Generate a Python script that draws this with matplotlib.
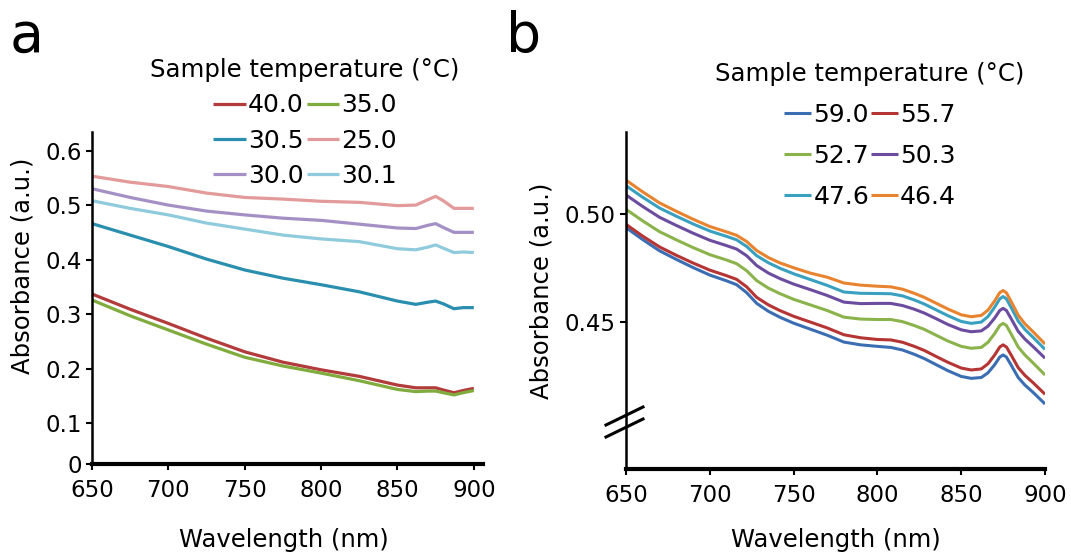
import matplotlib
matplotlib.use("Agg")
import matplotlib.pyplot as plt
from matplotlib.lines import Line2D

plt.rcParams['font.family'] = ['DejaVu Sans']

# ---------------- Panel a data ----------------
wl_a = [650, 675, 700, 725, 750, 775, 800, 825, 850, 862, 870, 875, 880, 887, 893, 900]
a_40_0 = [0.337, 0.309, 0.283, 0.256, 0.231, 0.212, 0.198, 0.186, 0.170, 0.165, 0.165, 0.165, 0.161, 0.156, 0.160, 0.164]
a_35_0 = [0.326, 0.297, 0.271, 0.245, 0.221, 0.205, 0.192, 0.178, 0.162, 0.158, 0.159, 0.159, 0.156, 0.152, 0.156, 0.160]
a_30_5 = [0.466, 0.445, 0.424, 0.401, 0.381, 0.366, 0.354, 0.341, 0.324, 0.318, 0.322, 0.324, 0.319, 0.310, 0.312, 0.312]
a_30_1 = [0.508, 0.494, 0.482, 0.467, 0.456, 0.445, 0.438, 0.433, 0.420, 0.418, 0.423, 0.427, 0.421, 0.413, 0.414, 0.413]
a_30_0 = [0.530, 0.514, 0.500, 0.489, 0.482, 0.476, 0.472, 0.465, 0.458, 0.457, 0.463, 0.466, 0.459, 0.450, 0.450, 0.450]
a_25_0 = [0.553, 0.542, 0.534, 0.522, 0.514, 0.511, 0.507, 0.505, 0.499, 0.500, 0.510, 0.516, 0.508, 0.494, 0.494, 0.494]

# ---------------- Panel b data ----------------
wl_b = [650, 660, 670, 680, 690, 700, 710, 716, 722, 728, 735, 742, 750, 760, 770, 780, 790, 800,
        808, 815, 822, 828, 835, 842, 850, 856, 862, 866, 870, 873, 875, 877, 880, 884, 888, 893, 900]
b_59_0 = [0.4938, 0.4882, 0.4830, 0.4790, 0.4752, 0.4717, 0.4690, 0.4672, 0.4635, 0.4585, 0.4548, 0.4520,
          0.4493, 0.4465, 0.4437, 0.4405, 0.4392, 0.4385, 0.4380, 0.4368, 0.4348, 0.4328, 0.4300, 0.4272,
          0.4245, 0.4236, 0.4240, 0.4262, 0.4300, 0.4335, 0.4345, 0.4335, 0.4295, 0.4240, 0.4205, 0.4170, 0.4117]
b_55_7 = [0.4953, 0.4898, 0.4848, 0.4809, 0.4773, 0.4740, 0.4714, 0.4697, 0.4662, 0.4613, 0.4578, 0.4551,
          0.4525, 0.4498, 0.4471, 0.4439, 0.4425, 0.4417, 0.4415, 0.4404, 0.4385, 0.4366, 0.4338, 0.4311,
          0.4284, 0.4275, 0.4280, 0.4304, 0.4345, 0.4382, 0.4392, 0.4382, 0.4342, 0.4286, 0.4250, 0.4215, 0.4162]
b_52_7 = [0.5023, 0.4969, 0.4919, 0.4881, 0.4845, 0.4812, 0.4787, 0.4770, 0.4737, 0.4691, 0.4656, 0.4630,
          0.4604, 0.4578, 0.4552, 0.4521, 0.4512, 0.4510, 0.4510, 0.4500, 0.4482, 0.4464, 0.4437, 0.4410,
          0.4385, 0.4376, 0.4380, 0.4404, 0.4445, 0.4482, 0.4492, 0.4482, 0.4440, 0.4382, 0.4345, 0.4307, 0.4252]
b_50_3 = [0.5090, 0.5036, 0.4986, 0.4948, 0.4912, 0.4879, 0.4854, 0.4838, 0.4807, 0.4761, 0.4726, 0.4700,
          0.4675, 0.4649, 0.4622, 0.4591, 0.4584, 0.4585, 0.4585, 0.4575, 0.4558, 0.4540, 0.4514, 0.4487,
          0.4462, 0.4453, 0.4457, 0.4479, 0.4517, 0.4552, 0.4562, 0.4552, 0.4511, 0.4455, 0.4419, 0.4383, 0.4330]
b_47_6 = [0.5133, 0.5079, 0.5029, 0.4991, 0.4955, 0.4922, 0.4897, 0.4881, 0.4850, 0.4807, 0.4774, 0.4748,
          0.4723, 0.4696, 0.4669, 0.4638, 0.4632, 0.4631, 0.4630, 0.4620, 0.4601, 0.4582, 0.4555, 0.4528,
          0.4501, 0.4492, 0.4498, 0.4524, 0.4568, 0.4606, 0.4617, 0.4606, 0.4563, 0.4503, 0.4464, 0.4426, 0.4371]
b_46_4 = [0.5159, 0.5104, 0.5053, 0.5014, 0.4977, 0.4943, 0.4918, 0.4902, 0.4873, 0.4831, 0.4798, 0.4773,
          0.4751, 0.4726, 0.4707, 0.4680, 0.4670, 0.4665, 0.4662, 0.4651, 0.4632, 0.4613, 0.4586, 0.4559,
          0.4532, 0.4523, 0.4529, 0.4554, 0.4597, 0.4635, 0.4645, 0.4634, 0.4591, 0.4530, 0.4490, 0.4452, 0.4396]

xticks = [650, 700, 750, 800, 850, 900]
a_yticks = [0.1, 0.2, 0.3, 0.4, 0.5, 0.6]
b_yticks = [0.45, 0.50]

W, H = 1071, 552
fig = plt.figure(figsize=(W / 100, H / 100), dpi=100)

def fx(px):
    return px / W

def fy(py):
    return 1 - py / H

TICK_FS = 16.5
LABEL_FS = 17.5
LEG_FS = 18
TITLE_FS = 17.6

# ---------------- Panel a ----------------
axa = fig.add_axes([fx(92), fy(464), fx(483) - fx(92), fy(132) - fy(464)])
series_a = [
    ("40.0", a_40_0, "#b23b3b"),
    ("30.5", a_30_5, "#2a8fae"),
    ("30.0", a_30_0, "#a590c6"),
    ("35.0", a_35_0, "#80ab3d"),
    ("25.0", a_25_0, "#e39a9a"),
    ("30.1", a_30_1, "#8fcbdd"),
]
handles_a = []
for lab, ys, col in series_a:
    h, = axa.plot(wl_a, ys, color=col, lw=2.3, label=lab, solid_capstyle='butt')
    handles_a.append(h)

ymin_a = 0.0253
axa.set_xlim(650, 906)
axa.set_ylim(ymin_a, 0.634)
axa.set_xticks(xticks)
axa.set_yticks([ymin_a] + a_yticks)
axa.set_yticklabels(["0"] + ["%.1f" % v for v in a_yticks])
axa.set_xlabel("Wavelength (nm)", fontsize=LABEL_FS)
axa.set_ylabel("Absorbance (a.u.)", fontsize=LABEL_FS)
axa.xaxis.set_label_coords(0.49, -0.193)
axa.yaxis.set_label_coords(-0.146, 0.596)

# ---------------- Panel b ----------------
axb = fig.add_axes([fx(626), fy(469), fx(1045) - fx(626), fy(132) - fy(469)])
series_b = [
    ("59.0", b_59_0, "#3b6db3"),
    ("52.7", b_52_7, "#8bb34b"),
    ("47.6", b_47_6, "#3aa0bf"),
    ("55.7", b_55_7, "#b53434"),
    ("50.3", b_50_3, "#6b4c9e"),
    ("46.4", b_46_4, "#e8832f"),
]
handles_b = []
for lab, ys, col in series_b:
    h, = axb.plot(wl_b, ys, color=col, lw=2.2, label=lab, solid_capstyle='butt')
    handles_b.append(h)

axb.set_xlim(650, 900)
axb.set_ylim(0.3814, 0.5383)
axb.set_xticks(xticks)
axb.set_yticks(b_yticks)
axb.set_yticklabels(["%.2f" % v for v in b_yticks])
axb.set_xlabel("Wavelength (nm)", fontsize=LABEL_FS)
axb.set_ylabel("Absorbance (a.u.)", fontsize=LABEL_FS)
axb.xaxis.set_label_coords(0.5, -0.175)
axb.yaxis.set_label_coords(-0.174, 0.53)

for ax in (axa, axb):
    for s in ("top", "right"):
        ax.spines[s].set_visible(False)
    ax.spines["left"].set_linewidth(1.8)
    ax.spines["bottom"].set_linewidth(3.0)
    ax.tick_params(axis="both", labelsize=TICK_FS, direction="out", length=4, width=1.5)
    ax.tick_params(axis="x", pad=7)
    ax.tick_params(axis="y", pad=3.5)

# axis break marks on panel b
for (x0, y0, x1, y1) in [(606, 425, 643, 407), (606, 437, 643, 419)]:
    fig.add_artist(Line2D([fx(x0), fx(x1)], [fy(y0), fy(y1)], color="black", lw=2.2,
                          transform=fig.transFigure))

# legends
la = fig.legend(handles=handles_a, labels=[h.get_label() for h in handles_a], ncol=2,
                title="Sample temperature (°C)", loc="upper center",
                bbox_to_anchor=(fx(305), fy(58)), bbox_transform=fig.transFigure,
                frameon=False, fontsize=LEG_FS, title_fontsize=TITLE_FS, handlelength=1.3,
                handletextpad=0.08, columnspacing=0.12, labelspacing=0.45,
                borderpad=0, borderaxespad=0)
lb = fig.legend(handles=handles_b, labels=[h.get_label() for h in handles_b], ncol=2,
                title="Sample temperature (°C)", loc="upper center",
                bbox_to_anchor=(fx(870), fy(62)), bbox_transform=fig.transFigure,
                frameon=False, fontsize=LEG_FS, title_fontsize=TITLE_FS, handlelength=1.1,
                handletextpad=0.08, columnspacing=0.05, labelspacing=0.68,
                borderpad=0, borderaxespad=0)

fig.text(fx(10), fy(52), "a", fontsize=40, va="baseline", ha="left")
fig.text(fx(506), fy(52), "b", fontsize=40, va="baseline", ha="left")

fig.savefig("out.png", dpi=100)
